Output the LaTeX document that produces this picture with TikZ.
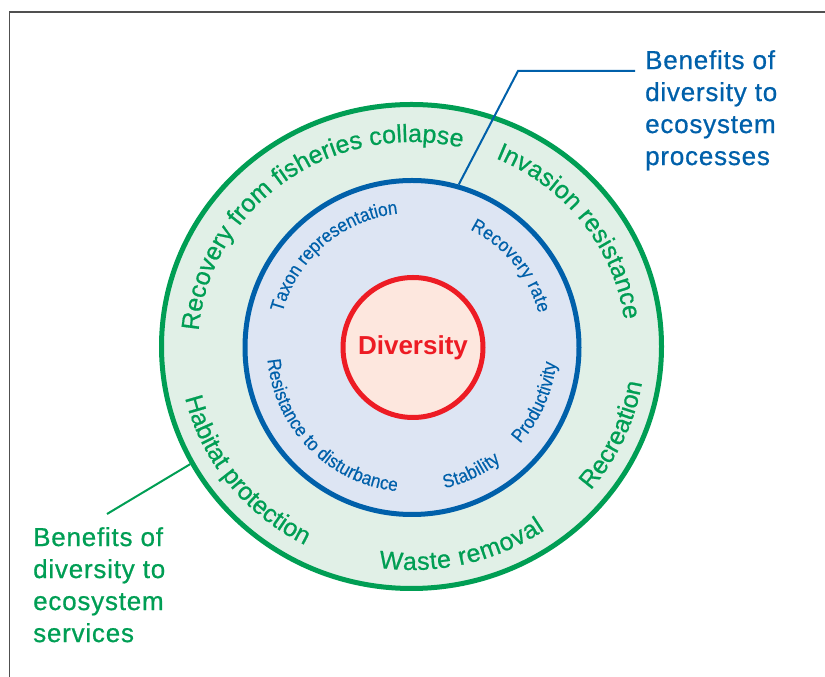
\documentclass[tikz,border=0pt]{standalone}
\usepackage{fontspec}
\setmainfont{Liberation Sans}
\newfontfamily\condfont[FakeStretch=0.9,FakeBold=0.4]{Liberation Sans}
\newfontfamily\medfont[FakeBold=0.7]{Liberation Sans}
\newfontfamily\labelfamily[LetterSpace=3,FakeBold=0.7]{Liberation Sans}
\usetikzlibrary{shapes.geometric,decorations.text}
\definecolor{svcgreen}{RGB}{0,158,84}
\definecolor{svcfill}{RGB}{225,240,231}
\definecolor{procblue}{RGB}{0,96,170}
\definecolor{procfill}{RGB}{221,229,243}
\definecolor{divred}{RGB}{237,28,36}
\definecolor{divfill}{RGB}{253,231,222}
\definecolor{framegray}{RGB}{80,80,80}
\newcommand\ringfont{\medfont\fontsize{25}{30}\selectfont\color{svcgreen}}
\newcommand\innerfont{\condfont\fontsize{19}{22}\selectfont\color{procblue}}
\begin{document}
\begin{tikzpicture}[x=1pt,y=1pt,
  ringtext/.style={decorate, decoration={text along path, text align=fit to path, text={#1}}},
  labeltext/.style={anchor=north west, inner sep=0, align=left, font=\labelfamily\fontsize{26}{32}\selectfont},
  ring/.style={line width=5, inner sep=0}
]
\useasboundingbox (0,0) rectangle (825,677);
\coordinate (C) at (412,330);
% frame
\draw[framegray, line width=1.5] (9.5,0) -- (9.5,665) -- (825,665);
% rings
\node[ellipse, ring, draw=svcgreen, fill=svcfill, minimum width=500, minimum height=484] (svcRing) at (411.5,330.5) {};
\node[circle, ring, draw=procblue, fill=procfill, minimum size=334] (procRing) at (412,329.5) {};
\node[circle, ring, draw=divred, fill=divfill, minimum size=140, font=\bfseries\fontsize{26}{30}\selectfont, text=divred] (div) at (413,329.5) {Diversity};
% outer ring texts (top, clockwise)
\path[ringtext={|\ringfont|Recovery from fisheries collapse}] ([shift={(175.5:214 and 205)}]C) arc[start angle=175.5, end angle=76.5, x radius=214, y radius=205];
\path[ringtext={|\ringfont|Invasion resistance}] ([shift={(67:214 and 205)}]C) arc[start angle=67, end angle=7.6, x radius=214, y radius=205];
% outer ring texts (bottom, counterclockwise)
\path[ringtext={|\ringfont|Habitat protection}] ([shift={(193.2:233 and 223)}]C) arc[start angle=193.2, end angle=242.4, x radius=233, y radius=223];
\path[ringtext={|\ringfont|Waste removal}] ([shift={(261.8:233 and 223)}]C) arc[start angle=261.8, end angle=304.8, x radius=233, y radius=223];
\path[ringtext={|\ringfont|Recreation}] ([shift={(320:233 and 223)}]C) arc[start angle=320, end angle=350, x radius=233, y radius=223];
% inner ring texts
\path[ringtext={|\innerfont|Taxon representation}] ([shift={(165.1:134)}]C) arc[start angle=165.1, end angle=97, radius=134];
\path[ringtext={|\innerfont|Recovery rate}] ([shift={(63.7:131)}]C) arc[start angle=63.7, end angle=14.9, radius=131];
\path[ringtext={|\innerfont|Resistance to disturbance}] ([shift={(185:145)}]C) arc[start angle=185, end angle=264, radius=145];
\path[ringtext={|\innerfont|Stability}] ([shift={(283:145)}]C) arc[start angle=283, end angle=307.8, radius=145];
\path[ringtext={|\innerfont|Productivity}] ([shift={(318.2:145)}]C) arc[start angle=318.2, end angle=353.8, radius=145];
% labels
\node[labeltext, text=procblue] (procLabel) at (645,627) {Benefits of\\diversity to\\ecosystem\\processes};
\node[labeltext, text=svcgreen] (svcLabel) at (33,150) {Benefits of\\diversity to\\ecosystem\\services};
% leaders
\coordinate (procEnd) at (635,606);
\coordinate (procElbow) at (518,606);
\draw[procblue, line width=2] (procEnd) -- (procElbow) -- (procRing.74);
\coordinate (svcEnd) at (107,163);
\draw[svcgreen, line width=2] (svcEnd) -- (svcRing.208);
\end{tikzpicture}
\end{document}
